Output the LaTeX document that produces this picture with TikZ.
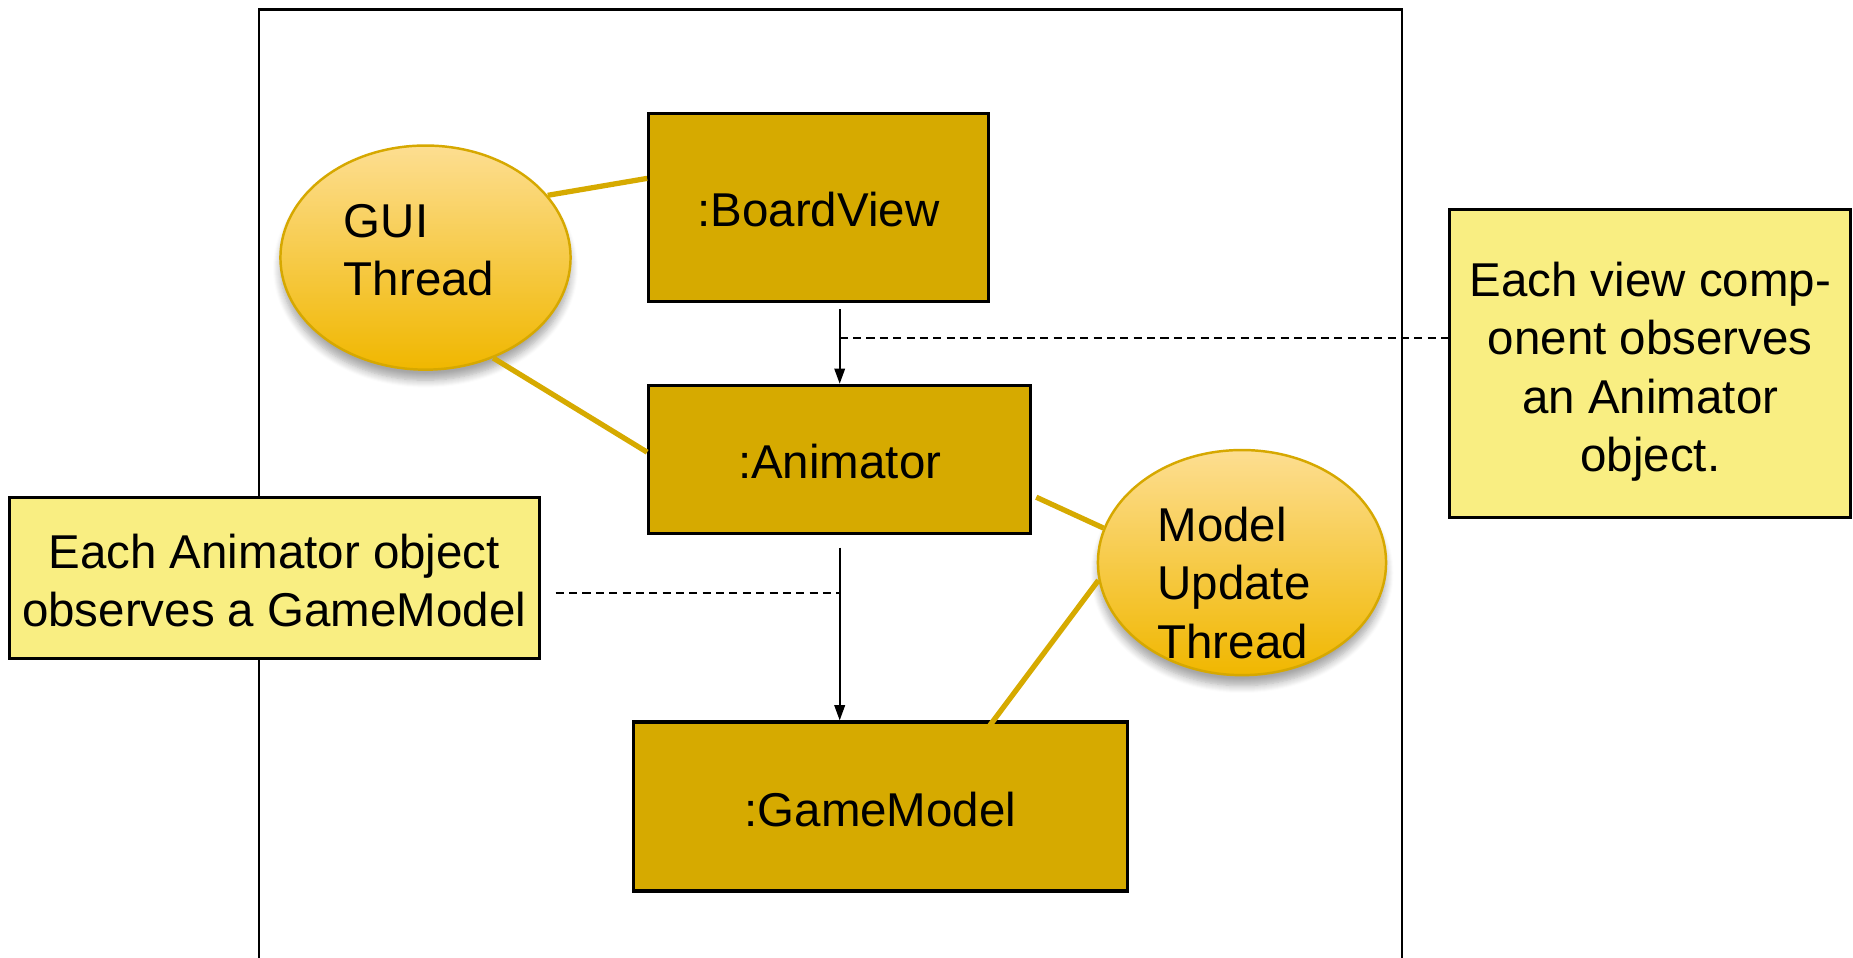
\documentclass[tikz,border=0pt]{standalone}
\usepackage{fontspec}
\setmainfont{Liberation Sans}
\usetikzlibrary{shapes.geometric,arrows.meta,calc,shadows.blur}

\definecolor{boxgold}{RGB}{214,170,0}
\definecolor{notefill}{RGB}{249,238,130}
\definecolor{threadtop}{RGB}{253,222,145}
\definecolor{threadbot}{RGB}{240,183,0}
\definecolor{threadedge}{RGB}{214,168,0}

% lower a text by #1 while keeping its box dimensions (so the node stays put)
\newcommand{\lowered}[2]{\raisebox{-#1}[\height][\depth]{#2}}
% centred multi-line note text
\newcommand{\notelines}[2]{\lowered{#1}{\begin{tabular}{@{}c@{}}#2\end{tabular}}}

\begin{document}
\begin{tikzpicture}[x=0.01cm,y=-0.01cm,
  font=\fontsize{13.5}{16.6}\selectfont,
  objbox/.style={draw=black, line width=0.9pt, fill=boxgold, inner sep=0pt},
  notebox/.style={draw=black, line width=0.9pt, fill=notefill, inner sep=0pt},
  thread/.style={ellipse, draw=threadedge, line width=0.7pt,
    top color=threadtop, bottom color=threadbot, inner sep=0pt,
    blur shadow={shadow xshift=0pt, shadow yshift=-3pt, shadow blur steps=8, shadow opacity=35}},
  threadlabel/.style={align=left, inner sep=0pt},
  tie/.style={draw=boxgold, line width=1.5pt},
  flow/.style={line width=0.5pt, -{Triangle[length=4.3pt,width=3pt]}},
  observe/.style={line width=0.5pt, dash pattern=on 2.3pt off 1.5pt},
]
\useasboundingbox (0,0) rectangle (1853,958);

% enclosing frame (runs past the lower edge)
\draw[line width=0.6pt] (258.8,958) |- (1401.6,9.5) -- (1401.6,958);

% objects
\node[objbox, minimum width=3.392cm, minimum height=1.88cm] (bv) at (818.4,207.4) {\lowered{0.6pt}{:BoardView}};
\node[objbox, minimum width=3.817cm, minimum height=1.477cm] (anim) at (839.7,459.2) {\lowered{0.6pt}{:Animator}};
\node[objbox, minimum width=4.94cm, minimum height=1.69cm] (gm) at (880.4,806.5) {\lowered{0.8pt}{:GameModel}};

% observer arrows
\draw[flow] ($(bv.south -| anim.north)+(0,6)$) -- (anim.north);
\draw[flow] ($(anim.south)+(0,13)$) -- (anim.south |- gm.north);

% notes
\node[notebox, minimum width=4.006cm, minimum height=3.076cm] (vnote) at (1650.3,363.8)
  {\notelines{2.4pt}{Each view comp-\\onent observes\\an Animator\\object.}};
\node[notebox, minimum width=5.295cm, minimum height=1.605cm] (anote) at (274.2,577.8)
  {\notelines{2.3pt}{Each Animator object\\observes a GameModel}};

\coordinate (j1) at (anim.north |- 0,338);
\coordinate (j2) at (anim.north |- 0,593);
\draw[observe] (j1) -- (j1 -| vnote.west);
\draw[observe] ($(anote.east |- j2)+(15,0)$) -- (j2);

% threads
\node[thread, minimum width=2.9cm, minimum height=2.24cm] (gui) at (425.5,257.6) {};
\node[threadlabel] (guitext) at (419,250) {GUI\\Thread};
\node[thread, minimum width=2.88cm, minimum height=2.25cm] (mt) at (1242,562.6) {};
\node[threadlabel] (mttext) at (1234,583) {Model\\Update\\Thread};

\draw[tie] (gui.27) -- ($(bv.west)+(0,-29)$);
\draw[tie] (gui.-56) -- ($(anim.west)+(0,-7)$);
\draw[tie] ($(anim.east)+(4,38)$) -- (mt.166);
\draw[tie] (mt.187) -- ($(gm.north)+(108,7)$);
\end{tikzpicture}
\end{document}
